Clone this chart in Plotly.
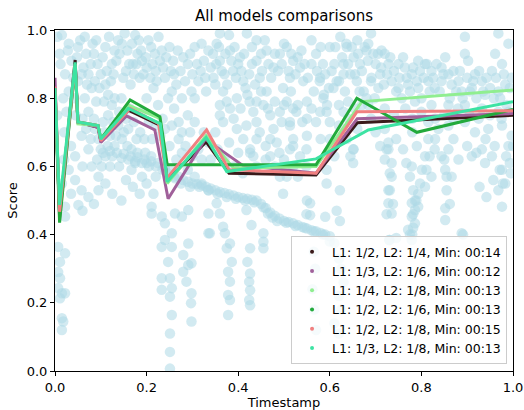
import plotly.graph_objects as go

# ---------------- background scores (light blue cloud) ----------------
BG_X = [
 0.015,0.03,0.036,0.022,0.03,0.065,0.062,0.073,0.08,0.087,0.1,0.11,0.116,0.124,0.13,0.138,0.146,0.175,0.18,0.19,
 0.2,0.22,0.21,0.233,0.226,0.24,0.255,0.247,0.26,0.27,0.277,0.29,0.305,0.32,0.335,0.3,0.313,0.33,0.305,0.29,0.305,
 0.073,0.087,0.058,0.073,0.095,0.116,0.124,0.13,0.11,0.13,0.146,0.16,0.138,0.167,0.18,0.197,0.21,0.08,0.095,0.044,
 0.058,0.073,0.095,0.03,0.044,0.175,0.167,0.19,0.2,0.24,0.26,0.29,0.305,0.32,0.335,0.277,0.313,0.335,0.277,0.26,
 0.01,0.005,0.02,0.045,0.05,0.085,0.09,0.11,0.155,0.165,0.17,0.145,0.185,0.2,0.215,0.225,0.19,0.205,0.23,0.25,0.265,
 0.14,0.155,0.065,0.05,0.09,0.105,0.12,0.035,0.02,0.06,0.015,0.035,0.06,0.085,0.11,0.125,0.14,0.155,0.145,0.17,0.185,
 0.2,0.22,0.215,
 0.12,0.135,0.15,0.165,0.18,0.195,0.21,0.225,0.24,0.255,0.27,0.28,0.29,0.3,0.31,0.32,0.33,0.34,0.35,0.36,0.37,0.38,
 0.39,0.4,0.41,0.42,0.43,0.44,0.45,0.46,0.47,0.48,0.49,0.5,0.51,0.52,0.53,0.54,0.55,0.56,0.57,0.58,0.59,0.6,
 0.353,0.36,0.346,0.367,0.382,0.389,0.404,0.411,0.397,0.382,0.36,0.367,0.397,0.411,0.426,0.433,0.447,0.462,0.462,
 0.455,0.47,0.477,0.491,0.506,0.52,0.535,0.542,0.513,0.498,0.506,0.52,0.491,0.513,0.55,0.55,0.55,0.477,0.47,0.484,
 0.447,0.433,0.579,0.587,0.594,0.579,0.608,0.615,0.6,0.623,0.637,0.652,0.666,0.68,0.645,0.659,0.674,0.63,0.637,
 0.652,0.645,0.419,0.426,0.47,0.513,0.535,
 0.36,0.38,0.44,0.45,0.43,0.42,0.44,0.37,0.35,0.355,0.37,0.39,0.41,0.44,0.46,0.48,0.5,0.52,0.53,
 0.56,0.57,0.6,0.61,0.63,0.66,0.69,0.7,0.71,0.67,0.69,0.7,0.62,0.6,0.64,0.66,
 0.684,0.713,0.728,0.72,0.75,0.764,0.779,0.793,0.808,0.822,0.844,0.859,0.881,0.895,0.895,0.902,0.917,0.932,0.954,
 0.968,0.961,0.976,0.99,0.997,0.691,0.706,0.698,0.684,0.735,0.75,0.771,0.793,0.815,0.829,0.844,0.866,0.888,0.91,
 0.939,0.968,0.983,0.757,0.786,0.822,0.859,0.895,0.932,0.968,0.815,0.837,0.859,0.895,0.917,0.946,0.976,0.997,0.815,
 0.829,0.844,0.808,0.801,0.822,0.808,0.793,0.786,0.859,0.852,0.866,0.881,0.91,0.932,0.939,0.954,0.976,0.983,0.968,
 0.99,0.728,0.735,0.735,0.728,0.728,0.779,0.72,
 0.779,0.786,0.779,0.786,0.771,0.779,0.793,0.728,0.735,0.852,0.852,0.888,0.976,0.73,
 0.62,0.625,0.63,0.62,0.625,0.61,0.62,0.565,0.568,0.562,0.566,0.57,0.73,0.745,0.78,
 0.353,0.36,0.367,0.371,0.382,0.375,0.386,0.378,0.382,0.378,0.382,0.378,0.338,0.418,0.429,0.426,0.42,0.426,0.424,
 0.426,0.424,0.426,0.455,0.455,0.455,0.59,0.557,0.557,0.55,
 0.498,0.506,0.52,0.513,0.527,0.549,0.549,0.578,0.586,0.593,0.593,0.593,0.622,0.615,0.622,0.636,0.651,0.651,0.724,
 0.731,0.731,0.738,0.724,0.767,0.775,0.782,0.789,0.782,0.782,0.775,0.797,0.811,0.818,0.855,0.855,0.862,0.891,0.927,
 0.942,0.957,0.978,0.971,0.993,1.0,0.549,0.491,
 0.007,0.022,0.011,0.007,0.011,0.007,0.015,0.022,0.011,0.015,0.018,0.015,0.051,0.022,0.211,0.211,0.233,0.262,0.277,
 0.291,0.24,0.255,0.24,0.255,0.233,0.291,0.335,0.335,0.247,0.28,0.28,0.291,0.298,0.287,0.233,0.251,0.233,0.255,
 0.251,0.298,0.297,0.255,0.298,0.251,0.251,0.251,0.022,
]
BG_Y = [
 0.985,0.96,0.91,0.87,0.82,0.98,0.89,0.87,0.83,0.85,0.87,0.84,0.81,0.9,0.94,0.97,0.96,0.985,0.93,0.91,
 0.89,0.88,0.95,0.94,0.98,0.86,0.82,0.8,0.77,0.73,0.7,0.9,0.95,0.96,0.94,0.87,0.85,0.82,0.8,0.75,0.73,
 0.76,0.71,0.69,0.65,0.68,0.75,0.78,0.8,0.63,0.66,0.68,0.71,0.72,0.65,0.64,0.64,0.63,0.6,0.57,0.56,
 0.53,0.51,0.53,0.59,0.63,0.61,0.59,0.57,0.61,0.59,0.57,0.59,0.57,0.55,0.53,0.64,0.65,0.67,0.8,0.87,
 0.93,0.75,0.7,0.75,0.95,0.93,0.97,0.95,0.88,0.84,0.9,0.8,0.86,0.8,0.83,0.78,0.76,0.73,0.69,0.66,0.62,
 0.76,0.74,0.8,0.85,0.79,0.73,0.69,0.66,0.62,0.6,0.55,0.52,0.47,0.49,0.55,0.52,0.6,0.56,0.5,0.54,0.52,
 0.55,0.57,0.52,
 0.645,0.64,0.637,0.63,0.627,0.62,0.615,0.61,0.6,0.585,0.57,0.56,0.555,0.55,0.548,0.545,0.54,0.535,0.53,0.525,0.522,
 0.518,0.515,0.51,0.507,0.505,0.502,0.5,0.49,0.478,0.465,0.455,0.447,0.44,0.437,0.433,0.428,0.422,0.418,0.413,0.41,
 0.405,0.4,0.395,
 0.96,0.91,0.86,0.82,0.94,0.88,0.92,0.85,0.8,0.77,0.78,0.73,0.71,0.68,0.65,0.63,0.86,0.94,0.82,
 0.78,0.75,0.89,0.93,0.95,0.91,0.89,0.85,0.86,0.83,0.79,0.77,0.76,0.72,0.79,0.74,0.69,0.71,0.68,0.67,
 0.7,0.76,0.86,0.81,0.78,0.76,0.83,0.85,0.73,0.98,0.95,0.92,0.9,0.94,0.87,0.85,0.82,0.9,0.68,
 0.65,0.63,0.99,0.64,0.63,0.65,0.63,
 0.99,0.985,0.97,0.93,0.9,0.81,0.79,0.87,0.7,0.65,0.62,0.6,0.58,0.6,0.62,0.6,0.62,0.6,0.57,
 0.97,0.93,0.95,0.9,0.87,0.97,0.99,0.9,0.87,0.78,0.74,0.7,0.72,0.68,0.74,0.71,
 0.96,0.94,0.9,0.93,0.9,0.89,0.87,0.91,0.9,0.88,0.89,0.87,0.85,0.98,0.93,0.91,0.87,0.85,0.88,
 0.99,0.93,0.9,0.96,0.86,0.86,0.83,0.8,0.78,0.85,0.83,0.84,0.83,0.85,0.83,0.85,0.84,0.82,0.83,
 0.81,0.82,0.84,0.8,0.79,0.78,0.78,0.78,0.77,0.76,0.73,0.71,0.72,0.73,0.7,0.71,0.72,0.69,0.68,
 0.65,0.63,0.63,0.59,0.57,0.54,0.52,0.5,0.65,0.59,0.57,0.62,0.63,0.65,0.61,0.63,0.59,0.55,0.53,
 0.66,0.67,0.61,0.57,0.53,0.65,0.6,0.71,
 0.493,0.472,0.453,0.433,0.414,0.384,0.482,0.492,0.462,0.477,0.443,0.404,0.482,0.384,
 0.33,0.3,0.26,0.22,0.18,0.14,0.11,0.35,0.3,0.24,0.18,0.12,0.384,0.39,0.4,
 0.492,0.462,0.423,0.404,0.374,0.36,0.32,0.291,0.262,0.223,0.208,0.164,0.404,0.472,0.428,0.36,0.32,0.286,0.262,
 0.237,0.208,0.193,0.404,0.379,0.36,0.452,0.492,0.457,0.5,
 0.52,0.57,0.68,0.73,0.76,0.65,0.6,0.85,0.8,0.76,0.59,0.55,0.53,0.47,0.44,0.96,0.65,0.61,0.65,
 0.58,0.53,0.49,0.46,0.61,0.57,0.53,0.5,0.46,0.42,0.4,0.55,0.59,0.63,0.57,0.53,0.49,0.4,0.54,
 0.51,0.56,0.55,0.59,0.61,0.66,0.46,0.57,
 0.364,0.345,0.32,0.29,0.272,0.243,0.228,0.228,0.213,0.155,0.145,0.12,0.487,0.482,0.482,0.462,0.453,0.462,0.453,
 0.472,0.433,0.404,0.384,0.364,0.364,0.374,0.462,0.404,0.32,0.34,0.291,0.311,0.316,0.262,0.272,0.272,0.238,0.243,
 0.218,0.228,0.199,0.164,0.145,0.11,0.056,0.007,0.453,
]

# extra readings of the denser parts of the cloud
BG2_X = [
 0.005,0.012,0.018,0.025,0.028,0.04,0.042,0.048,0.055,0.058,0.068,0.07,0.078,0.082,0.093,0.097,0.104,0.107,0.113,
 0.118,0.122,0.128,0.134,0.141,0.149,0.152,0.158,0.162,0.168,0.172,0.178,0.183,0.188,0.193,0.198,0.204,0.208,0.213,
 0.218,0.222,0.229,0.236,0.243,0.25,0.253,0.258,0.265,0.268,0.274,0.28,0.284,0.295,0.298,0.31,0.318,0.325,0.328,
 0.34,0.345,0.35,
 0.06,0.068,0.078,0.085,0.092,0.1,0.102,0.108,0.115,0.12,0.127,0.133,0.15,0.158,0.163,0.172,0.178,0.186,0.195,0.212,
 0.22,0.235,0.24,0.255,0.27,0.285,0.295,0.3,0.32,0.325,0.34,
 0.352,0.358,0.364,0.372,0.376,0.385,0.392,0.395,0.4,0.407,0.413,0.416,0.424,0.43,0.437,0.44,0.452,0.458,0.466,
 0.472,0.48,0.487,0.495,0.5,0.51,0.516,0.525,0.53,0.538,0.545,0.552,0.36,0.375,0.39,0.405,0.418,0.425,0.44,0.45,
 0.465,0.48,0.495,0.5,0.515,0.53,0.54,0.44,0.46,0.49,0.52,0.38,0.4,
 0.56,0.565,0.572,0.58,0.585,0.59,0.598,0.604,0.612,0.62,0.627,0.633,0.64,0.648,0.655,0.662,0.67,0.676,0.683,0.69,
 0.695,0.62,0.63,0.64,0.655,0.665,0.68,0.57,0.58,0.61,0.56,
 0.705,0.712,0.718,0.725,0.732,0.74,0.745,0.752,0.76,0.768,0.775,0.782,0.79,0.797,0.8,0.805,0.812,0.818,0.826,
 0.833,0.84,0.848,0.852,0.862,0.87,0.876,0.884,0.89,0.9,0.906,0.913,0.92,0.926,0.935,0.942,0.95,0.958,0.963,0.972,
 0.98,0.986,0.993,0.72,0.74,0.765,0.78,0.8,0.83,0.85,0.87,0.88,0.905,0.925,0.95,0.975,0.99,0.71,0.72,0.745,0.76,
 0.78,0.79,0.83,0.85,0.87,0.9,0.92,0.94,0.96,0.985,0.995,
 0.245,0.262,0.275,0.295,0.315,0.335,0.355,0.375,0.395,0.415,0.435,0.455,0.465,0.475,0.485,0.505,0.525,0.545,0.565,
 0.585,0.6,0.61,
 0.105,0.125,0.145,0.16,0.175,0.19,0.205,0.22,0.235,
]
BG2_Y = [
 0.98,0.9,0.8,0.76,0.94,0.86,0.8,0.92,0.97,0.87,0.93,0.84,0.9,0.96,0.9,0.83,0.92,0.79,0.88,
 0.98,0.85,0.87,0.91,0.93,0.86,0.99,0.94,0.9,0.96,0.87,0.9,0.97,0.94,0.87,0.92,0.97,0.86,0.9,
 0.93,0.85,0.91,0.89,0.92,0.95,0.88,0.91,0.84,0.94,0.88,0.92,0.85,0.93,0.82,0.9,0.88,0.91,0.86,
 0.89,0.93,0.84,
 0.74,0.71,0.68,0.74,0.62,0.65,0.6,0.7,0.66,0.6,0.73,0.69,0.7,0.66,0.77,0.73,0.68,0.7,0.68,0.68,
 0.72,0.74,0.71,0.72,0.68,0.66,0.7,0.63,0.62,0.7,0.62,
 0.9,0.95,0.88,0.93,0.84,0.91,0.95,0.86,0.9,0.88,0.93,0.83,0.87,0.95,0.84,0.91,0.88,0.97,0.9,
 0.86,0.93,0.88,0.9,0.96,0.88,0.93,0.87,0.92,0.94,0.9,0.86,0.75,0.79,0.74,0.77,0.72,0.79,0.73,0.82,
 0.77,0.79,0.73,0.78,0.82,0.78,0.73,0.68,0.66,0.64,0.66,0.67,0.64,
 0.9,0.82,0.88,0.95,0.9,0.87,0.83,0.88,0.95,0.85,0.92,0.82,0.9,0.95,0.87,0.93,0.88,0.95,0.91,0.85,
 0.93,0.78,0.76,0.79,0.77,0.82,0.8,0.73,0.68,0.63,0.77,
 0.93,0.89,0.84,0.87,0.92,0.88,0.82,0.86,0.92,0.86,0.82,0.89,0.85,0.88,0.8,0.86,0.9,0.82,0.86,
 0.9,0.82,0.87,0.92,0.8,0.88,0.82,0.88,0.8,0.86,0.82,0.85,0.8,0.88,0.82,0.86,0.83,0.8,0.86,0.8,
 0.87,0.78,0.83,0.77,0.75,0.77,0.74,0.76,0.74,0.75,0.74,0.77,0.75,0.74,0.75,0.74,0.76,0.66,0.62,0.68,0.65,
 0.7,0.66,0.68,0.62,0.68,0.66,0.64,0.68,0.66,0.63,0.58,
 0.58,0.565,0.55,0.54,0.54,0.53,0.52,0.51,0.505,0.5,0.495,0.48,0.462,0.45,0.44,0.435,0.425,0.42,0.41,
 0.4,0.38,0.375,
 0.64,0.63,0.625,0.62,0.615,0.61,0.6,0.6,0.59,
]

# ---------------- model curves ----------------
LABELS = [
    "L1: 1/2, L2: 1/4, Min: 00:14",
    "L1: 1/3, L2: 1/6, Min: 00:12",
    "L1: 1/4, L2: 1/8, Min: 00:13",
    "L1: 1/2, L2: 1/6, Min: 00:13",
    "L1: 1/2, L2: 1/8, Min: 00:15",
    "L1: 1/3, L2: 1/8, Min: 00:13",
]
COLORS = ["#3a1a1a", "#a0609a", "#90ee90", "#22aa3c", "#f08080", "#3de3a3"]

X_A = [0.0, 0.01, 0.044, 0.05, 0.094, 0.10, 0.16, 0.23, 0.245, 0.33, 0.38, 0.57, 0.66, 1.0]
Y_A = [0.83, 0.46, 0.912, 0.73, 0.715, 0.675, 0.765, 0.72, 0.56, 0.672, 0.58, 0.575, 0.728, 0.75]

X_B = [0.0, 0.01, 0.044, 0.05, 0.094, 0.10, 0.156, 0.218, 0.247, 0.328, 0.41, 0.57, 0.66, 1.0]
Y_B = [0.86, 0.45, 0.90, 0.73, 0.715, 0.67, 0.748, 0.707, 0.505, 0.68, 0.603, 0.58, 0.74, 0.755]

X_C = [0.0, 0.01, 0.044, 0.05, 0.094, 0.10, 0.16, 0.23, 0.245, 0.33, 0.39, 0.57, 0.67, 1.0]
Y_C = [0.82, 0.47, 0.895, 0.725, 0.72, 0.68, 0.78, 0.74, 0.55, 0.69, 0.595, 0.60, 0.79, 0.824]

X_D = [0.0, 0.01, 0.044, 0.05, 0.094, 0.10, 0.164, 0.229, 0.245, 0.57, 0.659, 0.79, 1.0]
Y_D = [0.82, 0.435, 0.90, 0.73, 0.72, 0.68, 0.795, 0.746, 0.605, 0.605, 0.80, 0.70, 0.767]

X_E = [0.0, 0.01, 0.044, 0.05, 0.094, 0.10, 0.164, 0.226, 0.244, 0.331, 0.38, 0.57, 0.659, 1.0]
Y_E = [0.834, 0.467, 0.90, 0.73, 0.72, 0.675, 0.77, 0.726, 0.565, 0.707, 0.59, 0.58, 0.76, 0.763]

X_F = [0.0, 0.01, 0.044, 0.05, 0.094, 0.10, 0.16, 0.23, 0.245, 0.33, 0.375, 0.57, 0.684, 1.0]
Y_F = [0.83, 0.487, 0.905, 0.73, 0.72, 0.68, 0.77, 0.725, 0.555, 0.685, 0.585, 0.622, 0.707, 0.79]

SERIES_X = [X_A, X_B, X_C, X_D, X_E, X_F]
SERIES_Y = [Y_A, Y_B, Y_C, Y_D, Y_E, Y_F]

X_TICKS = [0.0, 0.2, 0.4, 0.6, 0.8, 1.0]
Y_TICKS = [0.0, 0.2, 0.4, 0.6, 0.8, 1.0]

FONT = "DejaVu Sans"

fig = go.Figure()
fig.add_trace(go.Scatter(
    x=BG_X + BG2_X, y=BG_Y + BG2_Y, mode="markers", showlegend=False, hoverinfo="skip",
    marker=dict(size=10.5, color="#add8e6", opacity=0.55, line=dict(width=0)),
))
for xs, ys, c in zip(SERIES_X, SERIES_Y, COLORS):
    fig.add_trace(go.Scatter(x=xs, y=ys, mode="lines", showlegend=False,
                             line=dict(color=c, width=3)))
for lab, c in zip(LABELS, COLORS):
    fig.add_trace(go.Scatter(x=[None], y=[None], mode="markers", name=lab,
                             marker=dict(size=4, color=c)))

axis_common = dict(
    showline=True, mirror=True, linecolor="black", linewidth=1,
    ticks="outside", ticklen=4, tickcolor="black", showgrid=False, zeroline=False,
    tickfont=dict(family=FONT, size=13, color="black"), automargin=False,
)
fig.update_layout(
    width=524, height=410,
    margin=dict(l=55, r=11, t=30, b=39),
    paper_bgcolor="white", plot_bgcolor="white",
    font=dict(family=FONT, color="black"),
    title=dict(text="All models comparisons", x=0.542, xanchor="center",
               y=0.962, yanchor="middle", automargin=False,
               font=dict(family=FONT, size=15, color="black")),
    xaxis=dict(range=[0, 1], tickvals=X_TICKS, ticktext=[f"{v:.1f}" for v in X_TICKS],
               title=dict(text="Timestamp", font=dict(family=FONT, size=13), standoff=2),
               **axis_common),
    yaxis=dict(range=[0, 1], tickvals=Y_TICKS, ticktext=[f"{v:.1f}" for v in Y_TICKS],
               title=dict(text="Score", font=dict(family=FONT, size=13), standoff=6),
               **axis_common),
    legend=dict(x=0.987, y=0.02, xanchor="right", yanchor="bottom",
                bgcolor="rgba(255,255,255,0.8)", bordercolor="#cccccc", borderwidth=1,
                font=dict(family=FONT, size=12.5, color="black"), itemwidth=30,
                tracegroupgap=0),
)
fig.write_html("out.html", config={"displayModeBar": False},
               post_script="document.body.style.margin='0px';document.body.style.overflow='hidden';")
